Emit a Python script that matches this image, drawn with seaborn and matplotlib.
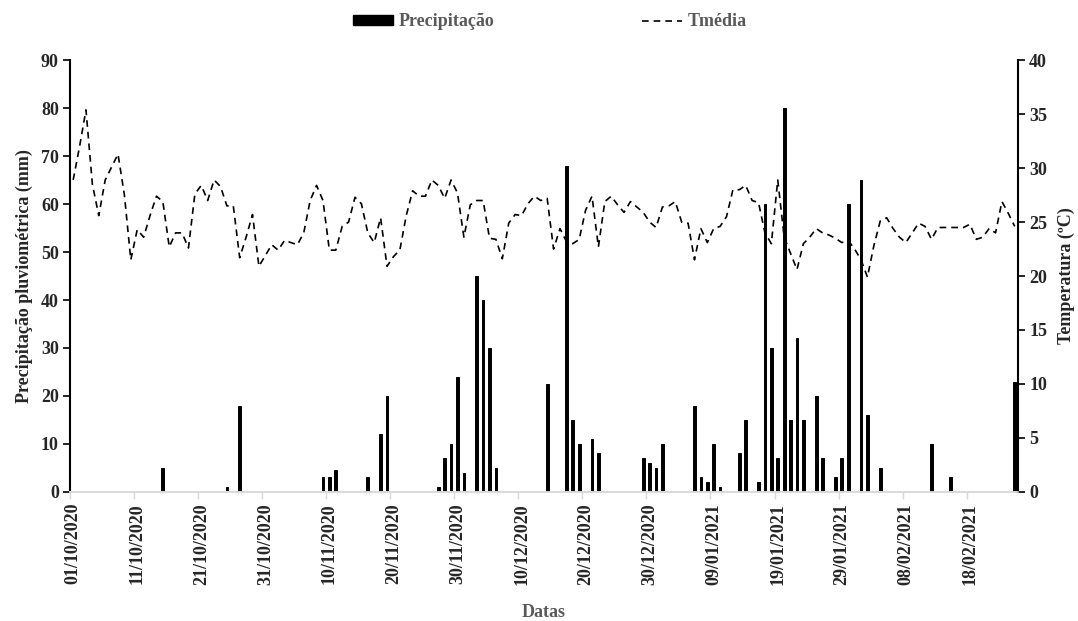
import matplotlib
matplotlib.use("Agg")
import matplotlib.pyplot as plt
from matplotlib.lines import Line2D
from matplotlib.patches import Patch
import numpy as np
import seaborn as sns

# daily mean temperature (ºC), 01/10/2020 .. 25/02/2021
tmedia = [
    28.9, 32.0, 35.4, 28.5, 25.6, 28.9, 30.1, 31.3, 27.5, 21.5,
    24.3, 23.6, 25.6, 27.4, 26.9, 22.7, 24.0, 24.0, 22.6, 27.6,
    28.4, 27.0, 28.9, 28.3, 26.5, 26.5, 21.7, 23.6, 25.7, 20.9,
    21.9, 22.9, 22.4, 23.3, 23.1, 22.9, 24.0, 27.0, 28.4, 27.0,
    22.4, 22.4, 24.6, 25.0, 27.3, 26.7, 24.0, 23.1, 25.4, 20.9,
    21.8, 22.4, 25.6, 27.9, 27.4, 27.4, 28.9, 28.4, 27.2, 28.9,
    27.7, 23.6, 26.6, 27.0, 27.0, 23.5, 23.4, 21.6, 24.9, 25.7,
    25.6, 26.7, 27.4, 27.0, 27.2, 22.5, 24.4, 23.2, 23.0, 23.4,
    26.1, 27.4, 22.7, 26.9, 27.4, 26.6, 25.9, 26.9, 26.4, 25.9,
    25.0, 24.5, 26.4, 26.5, 26.9, 25.0, 24.9, 21.5, 24.4, 23.1,
    24.4, 24.6, 25.5, 28.0, 28.0, 28.4, 27.0, 26.8, 24.0, 23.0,
    28.9, 23.6, 22.1, 20.6, 23.0, 23.6, 24.4, 24.0, 23.8, 23.5,
    23.1, 23.3, 22.5, 21.5, 19.9, 22.8, 25.1, 25.4, 24.4, 23.6,
    23.1, 24.0, 24.9, 24.6, 23.4, 24.5, 24.5, 24.5, 24.5, 24.5,
    24.8, 23.4, 23.6, 24.4, 24.0, 26.9, 25.8, 24.6,
]

# days (index from 01/10/2020) with rain, and rain amount (mm)
rain_days = [14, 24, 26, 39, 40, 41, 46, 48, 49, 57, 58, 59, 60, 61, 63, 64,
             65, 66, 74, 77, 78, 79, 81, 82, 89, 90, 91, 92, 97, 98, 99, 100,
             101, 104, 105, 107, 108, 109, 110, 111, 112, 113, 114, 116, 117,
             119, 120, 121, 123, 124, 126, 134, 137, 147]
rain_mm = [5, 1, 18, 3, 3, 4.5, 3, 12, 20, 1, 7, 10, 24, 4, 45, 40,
           30, 5, 22.5, 68, 15, 10, 11, 8, 7, 6, 5, 10, 18, 3, 2, 10,
           1, 8, 15, 2, 60, 30, 7, 80, 15, 32, 15, 20, 7,
           3, 7, 60, 65, 16, 5, 10, 3, 23]

date_labels = ["01/10/2020", "11/10/2020", "21/10/2020", "31/10/2020",
               "10/11/2020", "20/11/2020", "30/11/2020", "10/12/2020",
               "20/12/2020", "30/12/2020", "09/01/2021", "19/01/2021",
               "29/01/2021", "08/02/2021", "18/02/2021"]

days = np.arange(len(tmedia))
precip = np.zeros(len(tmedia))
precip[rain_days] = rain_mm

sns.set_theme(style="white")
plt.rcParams["font.family"] = ["Liberation Serif", "DejaVu Serif"]
plt.rcParams["font.weight"] = "bold"

fig = plt.figure(figsize=(10.78, 6.21), dpi=100)
ax = fig.add_axes([0.0649, 0.208, 0.8794, 0.695])

sns.barplot(x=days, y=precip, native_scale=True, color="black",
            saturation=1, width=0.42, errorbar=None, ax=ax,
            edgecolor="black", linewidth=0.7)

ax2 = ax.twinx()
sns.lineplot(x=days, y=tmedia, ax=ax2, color="black", linewidth=1.2,
             linestyle=(0, (4, 3)))

ax.set_xlim(-0.5, len(tmedia) - 0.5)
ax.set_ylim(0, 90)
ax.set_yticks(range(0, 91, 10))
ax2.set_ylim(0, 40)
ax2.set_yticks(range(0, 41, 5))

# tick marks between categories, labels on the category
ax.set_xticks(np.arange(0, len(tmedia), 10) - 0.5)
ax.set_xticklabels([])
ax.set_xticks(np.arange(0, len(tmedia), 10), minor=True)
ax.set_xticklabels(date_labels, minor=True, rotation=90, fontsize=13,
                   fontweight="bold")
ax.tick_params(axis="x", which="major", length=5, width=1, color="#d9d9d9",
               direction="out", bottom=True)
ax.tick_params(axis="x", which="minor", length=0, pad=8, bottom=True)

ax.tick_params(axis="y", length=5, width=1.2, color="black", direction="out",
               left=True, labelsize=13, pad=3)
ax2.tick_params(axis="y", length=5, width=1.2, color="black", direction="out",
                right=True, labelsize=13, pad=3)
for lab in ax.get_yticklabels() + ax2.get_yticklabels():
    lab.set_fontweight("bold")

for a in (ax, ax2):
    a.spines["top"].set_visible(False)
    a.spines["bottom"].set_color("#d9d9d9")
    a.spines["bottom"].set_linewidth(1.2)
    a.spines["left"].set_color("black")
    a.spines["left"].set_linewidth(1.5)
    a.spines["right"].set_color("black")
    a.spines["right"].set_linewidth(1.5)
ax.spines["right"].set_visible(False)
ax2.spines["left"].set_visible(False)

ax.set_xlabel("Datas", fontsize=13, fontweight="bold", color="#595959",
              labelpad=14)
ax.set_ylabel("Precipitação pluviométrica (mm)", fontsize=13,
              fontweight="bold", labelpad=6)
ax2.set_ylabel("Temperatura (ºC)", fontsize=13, fontweight="bold",
               labelpad=8)

handles = [Patch(facecolor="black", edgecolor="black"),
           Line2D([0], [0], color="black", linewidth=1.2, linestyle=(0, (4, 3)))]
leg = fig.legend(handles, ["Precipitação", "Tmédia"], loc="center",
                 bbox_to_anchor=(0.51, 0.965), ncol=2, frameon=False,
                 fontsize=13, handlelength=2.2, handleheight=0.45,
                 columnspacing=8.2, handletextpad=0.3)
for t in leg.get_texts():
    t.set_color("#595959")
    t.set_fontweight("bold")

fig.savefig("out.png", dpi=100)
